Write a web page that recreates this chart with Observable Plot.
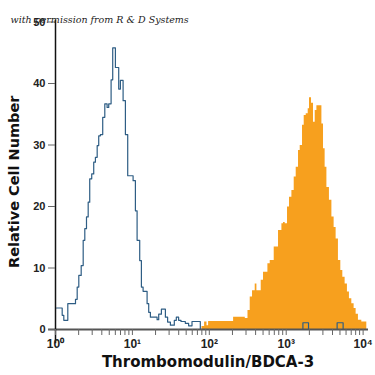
<!DOCTYPE html>
<html><head><meta charset="utf-8">
<script src="https://cdn.jsdelivr.net/npm/d3@7"></script>
<script src="https://cdn.jsdelivr.net/npm/@observablehq/plot@0.6"></script>
<style>html,body{margin:0;padding:0;background:#fff}</style>
</head><body><div id="chart"></div>
<script>
// Isotype control (blue outline): bin start (log10 intensity) and relative count
const blueLog = [0.013,0.087,0.108,0.160,0.260,0.282,0.303,0.334,0.360,0.381,0.403,0.425,0.445,0.471,0.497,0.519,0.542,0.562,0.584,0.614,0.641,0.671,0.692,0.723,0.744,0.779,0.822,0.844,0.879,0.909,0.939,1.009,1.039,1.061,1.095,1.117,1.139,1.191,1.212,1.234,1.321,1.342,1.377,1.429,1.458,1.494,1.545,1.571,1.601,1.632,1.688,1.731,1.775,1.883,3.217,3.290,3.662,3.740,4.052];
const blueCount = [3.5,2.3,1.5,4.2,4.9,6.9,8.8,10.4,14.5,16.4,18.3,20.7,24.5,25.3,27.2,28,29.9,31.5,31.7,34.5,36.7,36.1,36.7,40.6,45.8,42.6,39.1,40.5,37.2,31.7,25,24.2,19.3,14.5,11.2,6.9,6.2,4.2,2.8,2.0,1.6,2.5,3.3,2.0,1.2,0.7,1.5,2.0,1.5,1.3,1.0,0.6,1.3,0,1.1,0,1.1,0,0];
// Thrombomodulin/BDCA-3 stained (orange fill)
const orangeLog = [1.905,1.939,1.970,1.991,2.316,2.468,2.503,2.532,2.562,2.597,2.619,2.675,2.705,2.762,2.792,2.844,2.900,2.944,2.965,2.987,3.017,3.043,3.074,3.104,3.130,3.160,3.182,3.212,3.234,3.260,3.286,3.303,3.329,3.355,3.377,3.399,3.464,3.485,3.506,3.529,3.562,3.594,3.623,3.649,3.679,3.710,3.736,3.766,3.796,3.822,3.853,3.883,3.909,3.939,3.983,4.048];
const orangeCount = [0.5,1.2,0.6,1.3,2.0,1.8,3.1,5.3,6.3,7.4,6.3,8.0,9.3,10.7,11.2,13.4,16.1,17.2,17.4,17.2,19.9,21.5,22.6,24.8,26.4,29.1,29.9,33.2,34.8,35.1,35.9,37.7,36.8,33.7,35.6,36.4,33.4,29.4,26.4,23.1,21,18.3,16.6,14.7,11.2,9.6,8.5,7.4,6.1,5.0,4.2,3.4,2.5,1.5,1.2,0];

const xMajorTicks = [1, 10, 100, 1000, 10000];
const xTickLabels = ["10⁰", "10¹", "10²", "10³", "10⁴"];
const yTicks = [0, 10, 20, 30, 40, 50];
const xTitle = "Thrombomodulin/BDCA-3";
const yTitle = "Relative Cell Number";
const watermark = "with permission from R & D Systems";

const blue = blueLog.map((l, i) => ({x: 10 ** l, y: blueCount[i]}));
const orange = orangeLog.map((l, i) => ({x: 10 ** l, y: orangeCount[i]}));
const minorTicks = [];
for (let k = 0; k < 4; k++) for (let m = 2; m <= 9; m++) minorTicks.push(m * 10 ** k);
const allTicks = [...xMajorTicks, ...minorTicks];
const labelFor = new Map(xMajorTicks.map((t, i) => [t, xTickLabels[i]]));

const font = "'Liberation Sans', Arial, sans-serif";
const titleFont = "'DejaVu Sans', sans-serif";

const chart = Plot.plot({
  width: 375,
  height: 375,
  marginLeft: 55,
  marginRight: 7,
  marginTop: 21.5,
  marginBottom: 46,
  style: {fontFamily: font, background: "#fff"},
  x: {type: "log", domain: [1, 10 ** 4.07]},
  y: {domain: [0, 50]},
  marks: [
    Plot.areaY(orange, {x: "x", y: "y", curve: "step-after", fill: "#f7a01e"}),
    Plot.lineY(blue, {x: "x", y: "y", curve: "step-after", stroke: "#2e5d84", strokeWidth: 1.2}),
    Plot.ruleY([0], {stroke: "#555", strokeWidth: 2, x1: 10 ** -0.09, x2: 10 ** 4.07}),
    Plot.ruleX([1], {stroke: "#111", strokeWidth: 1.5, y1: -2.3, y2: 50.3}),
    Plot.axisX({ticks: allTicks, tickSize: 6, tickPadding: 4, stroke: "#666",
      tickFormat: d => labelFor.get(d) ?? "", fontSize: 12, fontWeight: "bold", fill: "#222", label: null}),
    Plot.axisY({ticks: yTicks, tickSize: 7, tickPadding: 3, stroke: "#666",
      fontSize: 11, fontWeight: "bold", fill: "#222", label: null}),
    Plot.text([xTitle], {frameAnchor: "bottom", dx: -4, dy: 37, fontSize: 15, fontWeight: "bold", fill: "#111", fontFamily: titleFont}),
    Plot.text([yTitle], {frameAnchor: "left", dx: -41, dy: 6, rotate: -90, textAnchor: "middle", fontSize: 14.5, fontWeight: "bold", fill: "#111", fontFamily: titleFont}),
    Plot.text([watermark], {frameAnchor: "top-left", dx: -45, dy: -6, textAnchor: "start", fontSize: 9.5, fontStyle: "italic", fill: "#222", fontFamily: "'DejaVu Serif', 'Liberation Serif', serif"})
  ]
});
document.getElementById("chart").appendChild(chart);
</script>
</body></html>
